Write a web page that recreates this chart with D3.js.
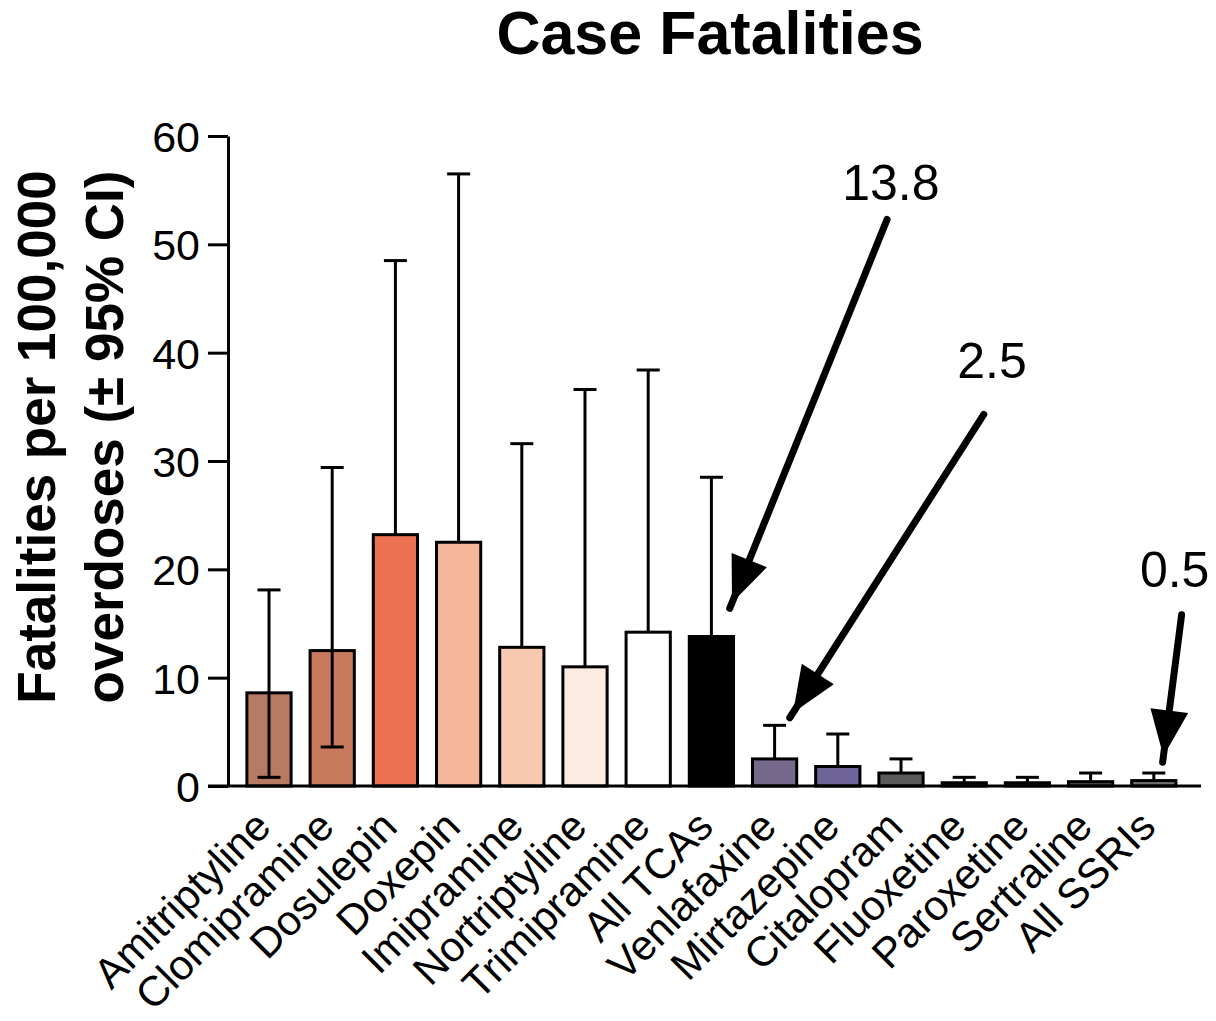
<!DOCTYPE html>
<html>
<head>
<meta charset="utf-8">
<script src="https://cdn.jsdelivr.net/npm/d3@7/dist/d3.min.js"></script>
<style>
  html, body { margin: 0; padding: 0; background: #fff; }
  svg { display: block; }
  text { font-family: "Liberation Sans", Arial, Helvetica, sans-serif; fill: #000; }
</style>
</head>
<body>
<svg id="chart" width="1216" height="1021"></svg>
<script>
// ---- data ----
const categories = ["Amitriptyline", "Clomipramine", "Dosulepin", "Doxepin", "Imipramine",
  "Nortriptyline", "Trimipramine", "All TCAs", "Venlafaxine", "Mirtazepine", "Citalopram",
  "Fluoxetine", "Paroxetine", "Sertraline", "All SSRIs"];
const means = [8.6, 12.5, 23.2, 22.5, 12.8, 11.0, 14.2, 13.8, 2.5, 1.8, 1.2, 0.3, 0.3, 0.4, 0.5];
const upperCI = [18.1, 29.4, 48.5, 56.5, 31.6, 36.6, 38.4, 28.5, 5.6, 4.8, 2.5, 0.8, 0.8, 1.2, 1.2];
const lowerCI = [0.8, 3.6, null, null, null, null, null, null, null, null, null, null, null, null, null];
const barColors = ["#b77a62", "#c97a5d", "#ec7052", "#f5b69a", "#f7c9b1", "#fbebe0", "#ffffff",
  "#000000", "#766a8c", "#6e649a", "#5a5a5a", "#454545", "#454545", "#505050", "#707070"];
const yTicks = [0, 10, 20, 30, 40, 50, 60];
// annotations: positions in data space (fractional category index, value)
const annLabels = ["13.8", "2.5", "0.5"];
const annTip = [[7.29, 16.4], [8.24, 6.3], [14.14, 2.2]];
const annTail = [[9.78, 52.3], [11.31, 34.3], [14.44, 15.8]];
const annText = [[9.84, 54.1], [11.44, 37.7], [14.33, 18.4]];

// ---- layout ----
const svg = d3.select("#chart");
const y = d3.scaleLinear().domain([0, 60]).range([786, 136]);
const x = d3.scaleBand().domain(categories).range([237.4, 1185.4]).paddingInner(0.3).paddingOuter(0.15);
const bw = x.bandwidth();
const idx = d3.scaleLinear().domain([0, categories.length - 1])
  .range([x(categories[0]) + bw / 2, x(categories[categories.length - 1]) + bw / 2]);

// title
svg.append("text").attr("x", 710).attr("y", 54).attr("text-anchor", "middle")
  .attr("font-size", 61).attr("font-weight", "bold").text("Case Fatalities");

// y axis label
const yl = svg.append("text").attr("transform", "translate(0,437) rotate(-90)")
  .attr("text-anchor", "middle").attr("font-size", 53).attr("font-weight", "bold");
yl.append("tspan").attr("x", 0).attr("y", 55).text("Fatalities per 100,000");
yl.append("tspan").attr("x", 0).attr("y", 123).text("overdoses (\u00b1 95% CI)");

// y axis
const yAxis = svg.append("g").attr("transform", "translate(228,0)")
  .call(d3.axisLeft(y).tickValues(yTicks).tickSize(20).tickSizeOuter(0).tickPadding(8));
yAxis.selectAll("path, line").attr("stroke", "#000").attr("stroke-width", 3);
yAxis.selectAll("text").attr("font-size", 43).attr("font-family", '"Liberation Sans", Arial, sans-serif')
  .attr("dy", "0.36em");

// bars
const data = categories.map((c, i) => ({c, m: means[i], u: upperCI[i], l: lowerCI[i], col: barColors[i]}));
svg.append("g").selectAll("rect").data(data).join("rect")
  .attr("x", d => x(d.c)).attr("width", bw)
  .attr("y", d => y(d.m)).attr("height", d => y(0) - y(d.m))
  .attr("fill", d => d.col).attr("stroke", "#000").attr("stroke-width", 3);

// error bars
const eg = svg.append("g").attr("stroke", "#000").attr("stroke-width", 3).attr("fill", "none");
const capW = 23;
data.forEach(d => {
  const cx = x(d.c) + bw / 2;
  const bottom = d.l == null ? d.m : d.l;
  eg.append("line").attr("x1", cx).attr("x2", cx).attr("y1", y(bottom)).attr("y2", y(d.u));
  eg.append("line").attr("x1", cx - capW / 2).attr("x2", cx + capW / 2).attr("y1", y(d.u)).attr("y2", y(d.u));
  if (d.l != null) {
    eg.append("line").attr("x1", cx - capW / 2).attr("x2", cx + capW / 2).attr("y1", y(d.l)).attr("y2", y(d.l));
  }
});

// x axis line
svg.append("line").attr("x1", 208).attr("x2", 1201).attr("y1", y(0)).attr("y2", y(0))
  .attr("stroke", "#000").attr("stroke-width", 3);

// x tick labels
svg.append("g").selectAll("text").data(categories).join("text")
  .attr("transform", c => `translate(${x(c) + bw / 2 + 4},829) rotate(-45)`)
  .attr("text-anchor", "end").attr("font-size", 42).text(c => c);

// annotations
const ag = svg.append("g");
annLabels.forEach((lab, i) => {
  const tip = [idx(annTip[i][0]), y(annTip[i][1])];
  const tail = [idx(annTail[i][0]), y(annTail[i][1])];
  const dx = tip[0] - tail[0], dy = tip[1] - tail[1];
  const len = Math.hypot(dx, dy);
  const ux = dx / len, uy = dy / len, px = -uy, py = ux;
  ag.append("line").attr("x1", tail[0]).attr("y1", tail[1]).attr("x2", tip[0]).attr("y2", tip[1])
    .attr("stroke", "#000").attr("stroke-width", 7).attr("stroke-linecap", "round");
  const t = [tip[0] - 6 * ux, tip[1] - 6 * uy];
  const b = [tip[0] - 52 * ux, tip[1] - 52 * uy];
  const hw = 19;
  ag.append("path").attr("d", `M${t[0]},${t[1]}L${b[0] + px * hw},${b[1] + py * hw}L${b[0] - px * hw},${b[1] - py * hw}Z`)
    .attr("fill", "#000");
  ag.append("text").attr("x", idx(annText[i][0])).attr("y", y(annText[i][1]))
    .attr("text-anchor", "middle").attr("font-size", 50).text(lab);
});
</script>
</body>
</html>
